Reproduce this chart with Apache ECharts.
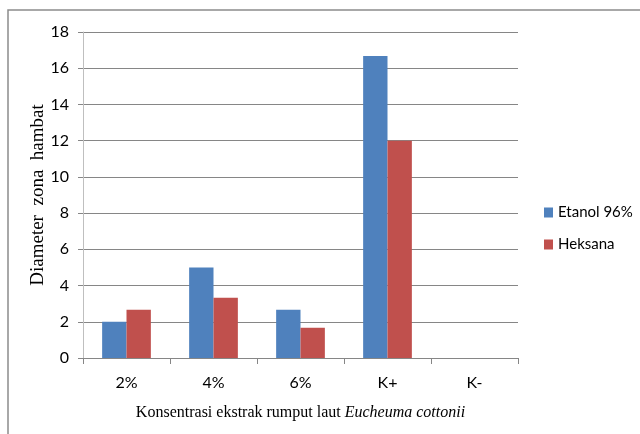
<!DOCTYPE html>
<html>
<head>
<meta charset="utf-8">
<script src="https://cdn.jsdelivr.net/npm/echarts@6/dist/echarts.min.js"></script>
<style>
  html, body { margin: 0; padding: 0; background: #fff; }
  #chart { width: 640px; height: 434px; }
</style>
</head>
<body>
<div id="chart"></div>
<script>
// Inhibition zone diameter per extract concentration and solvent
const categories = ['2%', '4%', '6%', 'K+', 'K-'];
const etanolValues = [2.0, 5.0, 2.67, 16.67, 0];
const heksanaValues = [2.67, 3.33, 1.67, 12.0, 0];
const seriesNames = ['Etanol 96%', 'Heksana'];
const yMin = 0, yMax = 18, yStep = 2;

const chart = echarts.init(document.getElementById('chart'), null, { renderer: 'canvas' });

const labelFont = 'Lato, "Open Sans", "Liberation Sans", sans-serif';
const serifFont = '"Liberation Serif", "DejaVu Serif", serif';

chart.setOption({
  animation: false,
  backgroundColor: '#ffffff',
  graphic: [{
    type: 'rect',
    shape: { x: 8, y: 10, width: 700, height: 500 },
    style: { fill: 'none', stroke: '#8c8c8c', lineWidth: 1.5 },
    silent: true
  }],
  grid: { left: 83, right: 122, top: 32, bottom: 76, containLabel: false },
  legend: {
    orient: 'vertical',
    left: 539,
    top: 200,
    itemWidth: 9,
    itemHeight: 10,
    itemGap: 17,
    icon: 'rect',
    textStyle: { fontFamily: labelFont, fontSize: 15, color: '#000' },
    data: seriesNames
  },
  xAxis: {
    type: 'category',
    data: categories,
    name: '{n|Konsentrasi ekstrak rumput laut }{i|Eucheuma cottonii}',
    nameLocation: 'middle',
    nameGap: 47,
    nameTextStyle: {
      rich: {
        n: { fontFamily: serifFont, fontSize: 16, color: '#000' },
        i: { fontFamily: serifFont, fontSize: 16, fontStyle: 'italic', color: '#000' }
      }
    },
    axisLine: { lineStyle: { color: '#868686', width: 1 } },
    axisTick: { show: true, length: 6, lineStyle: { color: '#868686' } },
    axisLabel: { margin: 17, fontFamily: labelFont, fontSize: 16, color: '#000' }
  },
  yAxis: {
    type: 'value',
    min: yMin,
    max: yMax,
    interval: yStep,
    name: 'Diameter  zona  hambat',
    nameLocation: 'middle',
    nameGap: 35,
    nameMoveOverlap: false,
    nameTextStyle: { fontFamily: serifFont, fontSize: 19, color: '#000' },
    axisLine: { show: true, lineStyle: { color: '#bfbfbf', width: 1 } },
    axisTick: { show: true, length: 5, lineStyle: { color: '#868686' } },
    axisLabel: { margin: 14, fontFamily: labelFont, fontSize: 16, color: '#000' },
    splitLine: { lineStyle: { color: '#868686', width: 1 } }
  },
  series: [
    {
      name: seriesNames[0],
      type: 'bar',
      data: etanolValues,
      barGap: '0%',
      barCategoryGap: '44%',
      itemStyle: { color: '#4F81BD' }
    },
    {
      name: seriesNames[1],
      type: 'bar',
      data: heksanaValues,
      itemStyle: { color: '#C0504D' }
    }
  ]
});
</script>
</body>
</html>
